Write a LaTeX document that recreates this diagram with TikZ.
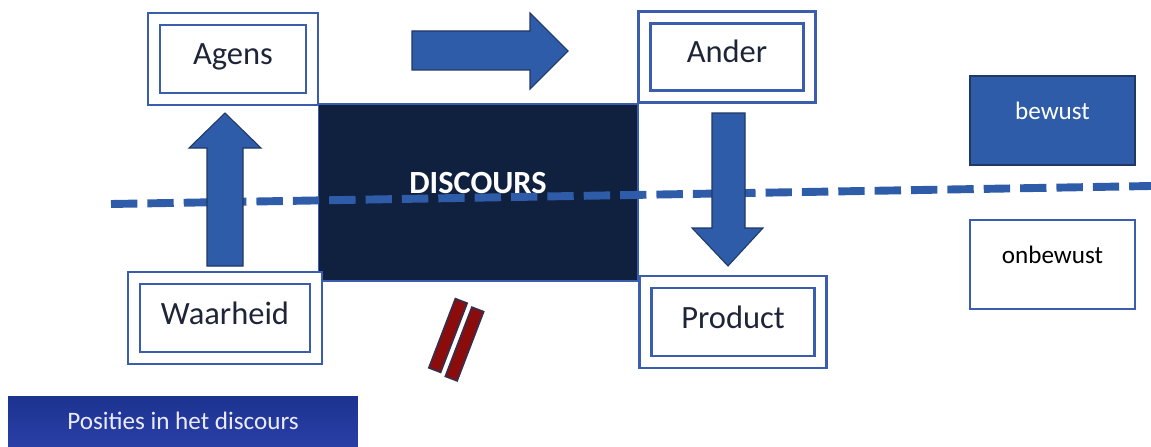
\documentclass[tikz,border=0pt]{standalone}
\usepackage{fontspec}
\setmainfont{Carlito}
\usetikzlibrary{positioning}

\definecolor{boxblue}{HTML}{3A5DAE}
\definecolor{arrowblue}{HTML}{2E5CA8}
\definecolor{arrowedge}{HTML}{1F3864}
\definecolor{discnavy}{HTML}{10213F}
\definecolor{labelink}{HTML}{1E2538}
\definecolor{barred}{HTML}{8C0B0B}
\definecolor{baredge}{HTML}{3B2C4A}
\definecolor{tabtop}{HTML}{1C3390}
\definecolor{tabbottom}{HTML}{2A3FA6}

\tikzset{
  dblbox/.style={draw=boxblue, line width=1.3pt, double=white, double distance=0.19cm,
    minimum height=1.6cm, inner sep=0pt, text=labelink, text height=0.45cm, text depth=0.21cm,
    font=\fontsize{18.5}{22}\selectfont},
  blockarrow/.style={fill=arrowblue, draw=arrowedge, line width=0.6pt, line join=miter},
  levelbox/.style={minimum width=3.3cm, minimum height=1.78cm, inner sep=0pt,
    text height=0.3cm, text depth=0.36cm, font=\fontsize{14.3}{17}\selectfont},
  barbox/.style={fill=barred, draw=baredge, line width=1pt, rotate=69,
    minimum width=1.48cm, minimum height=0.25cm, inner sep=0pt},
  dashline/.style={draw=arrowblue, line width=4.5pt, dash pattern=on 15pt off 5.7pt}
}

\begin{document}
\begin{tikzpicture}[x=0.02cm, y=-0.02cm]
\useasboundingbox (0,0) rectangle (1151,446);

% discourse block
\node[fill=discnavy, draw=boxblue, line width=0.6pt, minimum width=6.4cm,
  minimum height=3.54cm, inner sep=0pt] (disc) at (478,192.5) {};

% bewust / onbewust line
\coordinate (lineL) at (111,204);
\coordinate (lineR) at (1151,186);
\draw[dashline] (lineL) -- (lineR);

\node[text=white, font=\bfseries\fontsize{18.4}{22}\selectfont] (disctext) at (478,183) {DISCOURS};

% the four positions
\node[dblbox, minimum width=3.16cm] (agens) at (233,59) {Agens};
\node[dblbox, minimum width=3.3cm, minimum height=1.58cm] (ander) at (727,57) {Ander};
\node[dblbox, minimum width=3.64cm] (waarheid) at (225,318) {Waarheid};
\node[dblbox, minimum width=3.5cm] (product) at (733,322) {Product};

% block arrows
\draw[blockarrow] (412,31) -- (530,31) -- (530,13) -- (568,51) -- (530,89) -- (530,70) -- (412,70) -- cycle;
\draw[blockarrow] (207,266) -- (207,148) -- (189,148) -- (225,113) -- (261,148) -- (243,148) -- (243,266) -- cycle;
\draw[blockarrow] (712,113) -- (745,113) -- (745,228) -- (763,228) -- (728,266) -- (692,228) -- (712,228) -- cycle;

% barred
\node[barbox] (barA) at (448,335.5) {};
\node[barbox] (barB) at (464.5,344) {};

% legend
\node[levelbox, fill=arrowblue, draw=arrowedge, line width=0.8pt, text=white] (bewust) at (1052.5,120.5) {bewust};
\node[levelbox, draw=boxblue, line width=1.1pt, text=black] (onbewust) at (1052.5,264.5) {onbewust};

% title tab
\node[top color=tabtop, bottom color=tabbottom, minimum width=7cm, minimum height=1cm,
  inner sep=0pt, text=white!92!blue, font=\fontsize{14.3}{17}\selectfont] (title) at (183,421) {Posities in het discours};

\end{tikzpicture}
\end{document}
